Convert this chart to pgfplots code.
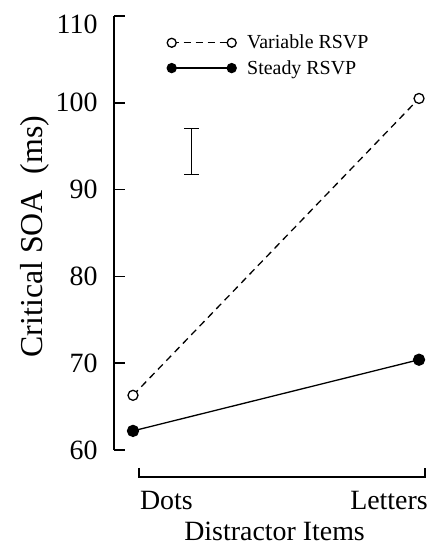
\documentclass[border=0pt]{standalone}
\usepackage{fontspec}
\setmainfont{Liberation Serif}
\usepackage{pgfplots}
\pgfplotsset{compat=1.18}

\begin{document}
\begin{tikzpicture}
\useasboundingbox (0,0) rectangle (436bp,547bp);
\begin{axis}[
    at={(114bp,97bp)}, anchor=south west,
    scale only axis, width=322.2bp, height=434bp,
    xmin=-0.0664, xmax=1.06, ymin=60, ymax=110,
    axis y line*=left, axis x line=none,
    axis line style={line width=1.5bp},
    ytick={60,70,80,90,100,110}, xtick=\empty,
    yticklabels={60,70,80,90,100,\raisebox{-8bp}[\height][\depth]{110}},
    tick align=inside, major tick length=11bp,
    tick style={line width=1.5bp, black},
    /pgf/number format/assume math mode=true,
    yticklabel style={font=\fontsize{28}{30}\selectfont, xshift=-13bp},
    clip=false,
    legend style={at={(0.1645,0.961)}, anchor=north west, draw=none, fill=none,
        font=\fontsize{20}{22}\selectfont, row sep=6bp, column sep=9bp, inner sep=0pt,
        cells={anchor=west}},
    legend image code/.code={\draw[mark size=4.5bp] plot coordinates {(0bp,0bp) (60bp,0bp)};},
]
    % Variable RSVP
    \addplot[black, line width=1.3bp, dash pattern=on 7bp off 5bp,
        mark=*, mark options={solid, fill=white, line width=1.3bp}, mark size=5bp]
        coordinates {(0,66.3) (1,100.5)};
    \addlegendentry{Variable RSVP}
    % Steady RSVP
    \addplot[black, line width=1.3bp, mark=*, mark options={solid, fill=black}, mark size=5.5bp]
        coordinates {(0,62.2) (1,70.4)};
    \addlegendentry{Steady RSVP}
    % error bar (bar and caps)
    \addplot[black, line width=1bp, mark=none, forget plot] coordinates {(0.206,91.7) (0.206,97.0)};
    \addplot[black, line width=1bp, mark=none, forget plot] coordinates {(0.180,91.7) (0.232,91.7)};
    \addplot[black, line width=1bp, mark=none, forget plot] coordinates {(0.180,97.0) (0.232,97.0)};

    % x bracket
    \draw[line width=1.5bp] (axis cs:0.021,57.93) -- (axis cs:0.021,56.89)
        -- (axis cs:1.021,56.89) -- (axis cs:1.021,57.93);
    \node[anchor=base west, inner sep=0pt, font=\fontsize{28}{30}\selectfont] at (axis cs:0.024,53.09) {Dots};
    \node[anchor=base east, inner sep=0pt, font=\fontsize{28}{30}\selectfont] at (axis cs:1.031,53.09) {Letters};
    \node[anchor=base, inner sep=0pt, font=\fontsize{28}{30}\selectfont] at (axis cs:0.495,49.52) {Distractor Items};
    \node[rotate=90, anchor=base, inner sep=0pt, font=\fontsize{32}{34}\selectfont] at (axis cs:-0.3147,84.6) {Critical SOA\ \ (ms)};
\end{axis}
\end{tikzpicture}
\end{document}
